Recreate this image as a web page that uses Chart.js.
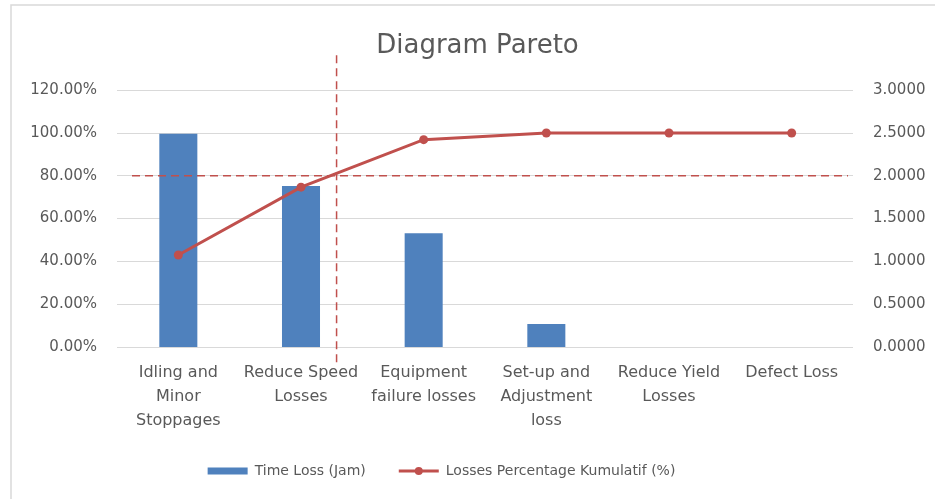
<!DOCTYPE html>
<html>
<head>
<meta charset="utf-8">
<script src="https://cdn.jsdelivr.net/npm/chart.js@4"></script>
<style>
  html, body { margin: 0; padding: 0; background: #ffffff; }
  #wrap { width: 935px; height: 499px; position: relative; }
</style>
</head>
<body>
<div id="wrap"><canvas id="c" width="935" height="499"></canvas></div>
<script>
// ---- data ----
const categories = [
  ["Idling and", "Minor", "Stoppages"],
  ["Reduce Speed", "Losses"],
  ["Equipment", "failure losses"],
  ["Set-up and", "Adjustment", "loss"],
  ["Reduce Yield", "Losses"],
  ["Defect Loss"]
];
const timeLoss = [2.49, 1.88, 1.33, 0.27, 0, 0];            // hours (right axis)
const cumulativePct = [43.0, 74.7, 96.9, 100.0, 100.0, 100.0]; // percent (left axis)
const leftTicks = [0, 20, 40, 60, 80, 100, 120];
const rightTicks = [0, 0.5, 1.0, 1.5, 2.0, 2.5, 3.0];
const thresholdPct = 80;
const cutoffIndex = 1.29;

const FONT = "'DejaVu Sans', 'Liberation Sans', sans-serif";
const TXT = '#595959';
const RED = '#C0504D';
const BLUE = '#4F81BD';

const extras = {
  id: 'extras',
  afterLayout(chart) {
    const lg = chart.legend;
    if (lg) {
      const dx = -26;
      lg.left += dx; lg.right += dx;
      (lg.legendHitBoxes || []).forEach(h => { h.left += dx; });
    }
    const tb = chart.titleBlock;
    if (tb) { tb.left += 10; tb.right += 10; }
  },
  beforeDraw(chart) {
    const ctx = chart.ctx;
    ctx.save();
    ctx.strokeStyle = '#D9D9D9';
    ctx.lineWidth = 1.5;
    ctx.beginPath();
    ctx.moveTo(11, chart.height);
    ctx.lineTo(11, 5);
    ctx.lineTo(chart.width, 5);
    ctx.stroke();
    ctx.restore();
  },
  afterDatasetsDraw(chart) {
    const ctx = chart.ctx;
    const a = chart.chartArea;
    const y = chart.scales.y.getPixelForValue(thresholdPct);
    const x = chart.scales.x.getPixelForValue(cutoffIndex);
    ctx.save();
    ctx.strokeStyle = RED;
    ctx.lineWidth = 1.5;
    ctx.setLineDash([8, 5]);
    ctx.beginPath();
    ctx.moveTo(a.left + 15, y);
    ctx.lineTo(a.right - 5, y);
    ctx.stroke();
    ctx.beginPath();
    ctx.moveTo(x, a.top - 35);
    ctx.lineTo(x, a.bottom + 16);
    ctx.stroke();
    ctx.restore();
  },
  afterDraw(chart) {
    const lg = chart.legend;
    if (!lg || !lg.legendHitBoxes || lg.legendHitBoxes.length < 2) return;
    const hb = lg.legendHitBoxes[1];
    const bw = lg.options.labels.boxWidth;
    const cy = hb.top + hb.height / 2;
    const ctx = chart.ctx;
    ctx.save();
    ctx.strokeStyle = RED;
    ctx.fillStyle = RED;
    ctx.lineWidth = 3;
    ctx.beginPath();
    ctx.moveTo(hb.left, cy);
    ctx.lineTo(hb.left + bw, cy);
    ctx.stroke();
    ctx.beginPath();
    ctx.arc(hb.left + bw / 2, cy, 4, 0, Math.PI * 2);
    ctx.fill();
    ctx.restore();
  }
};

new Chart(document.getElementById('c'), {
  data: {
    labels: categories,
    datasets: [
      {
        type: 'bar',
        label: 'Time Loss (Jam)',
        data: timeLoss,
        yAxisID: 'y1',
        backgroundColor: BLUE,
        borderWidth: 0,
        categoryPercentage: 1.0,
        barPercentage: 0.31,
        order: 2
      },
      {
        type: 'line',
        label: 'Losses Percentage Kumulatif (%)',
        data: cumulativePct,
        yAxisID: 'y',
        borderColor: RED,
        backgroundColor: RED,
        borderWidth: 3,
        pointRadius: 4.5,
        pointBackgroundColor: RED,
        pointBorderWidth: 0,
        tension: 0,
        order: 1
      }
    ]
  },
  options: {
    responsive: false,
    animation: false,
    devicePixelRatio: 1,
    layout: { padding: { left: 0, right: 0, top: 0, bottom: 11 } },
    plugins: {
      title: {
        display: true,
        text: 'Diagram Pareto',
        color: TXT,
        font: { family: FONT, size: 26, weight: 'normal' },
        padding: { top: 31, bottom: 28 }
      },
      legend: {
        display: true,
        position: 'bottom',
        labels: {
          color: TXT,
          font: { family: FONT, size: 14 },
          boxWidth: 40,
          boxHeight: 7,
          padding: 33,
          generateLabels(chart) {
            return chart.data.datasets.map((ds, i) => ({
              text: ds.label,
              fillStyle: i === 0 ? BLUE : 'rgba(0,0,0,0)',
              strokeStyle: 'rgba(0,0,0,0)',
              lineWidth: 0,
              fontColor: TXT,
              hidden: false,
              datasetIndex: i
            }));
          }
        }
      },
      tooltip: { enabled: false }
    },
    scales: {
      x: {
        type: 'category',
        offset: true,
        grid: { display: false, drawTicks: false },
        border: { display: false },
        ticks: {
          color: TXT,
          font: { family: FONT, size: 16, lineHeight: 1.5 },
          maxRotation: 0,
          autoSkip: false,
          padding: 14
        },
        afterFit(s) { s.height = 84; }
      },
      y: {
        position: 'left',
        min: 0, max: 120,
        afterBuildTicks(s) { s.ticks = leftTicks.map(v => ({ value: v })); },
        grid: { color: '#D9D9D9', lineWidth: 1, drawTicks: false },
        border: { display: false },
        ticks: {
          color: TXT,
          font: { family: FONT, size: 15 },
          padding: 20,
          callback: v => v.toFixed(2) + '%'
        },
        afterFit(s) { s.width = 117; }
      },
      y1: {
        position: 'right',
        min: 0, max: 3,
        afterBuildTicks(s) { s.ticks = rightTicks.map(v => ({ value: v })); },
        grid: { display: false, drawTicks: false },
        border: { display: false },
        ticks: {
          color: TXT,
          font: { family: FONT, size: 15 },
          padding: 20,
          callback: v => v.toFixed(4)
        },
        afterFit(s) { s.width = 82; }
      }
    }
  },
  plugins: [extras]
});
</script>
</body>
</html>
